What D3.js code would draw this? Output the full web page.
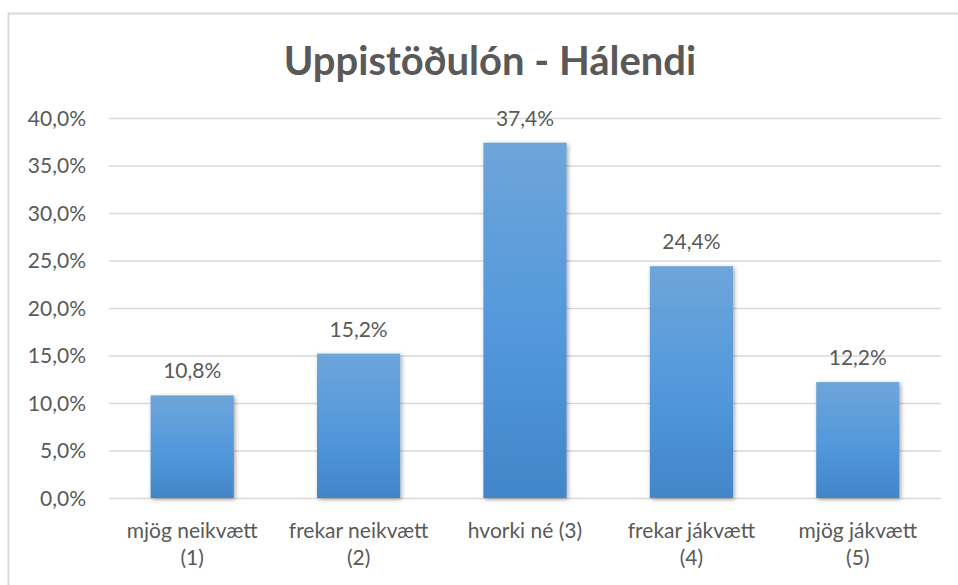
<!DOCTYPE html>
<html>
<head>
<meta charset="utf-8">
<script src="https://cdn.jsdelivr.net/npm/d3@7"></script>
<style>
  html, body { margin: 0; padding: 0; background: #fff; }
  svg { display: block; }
  text { font-family: Lato, "Open Sans", sans-serif; fill: #595959; }
</style>
</head>
<body>
<svg id="chart" width="958" height="585"></svg>
<script>
// Survey answers: share of respondents per attitude category (%)
const title = "Uppistöðulón - Hálendi";
const categories = ["mjög neikvætt (1)", "frekar neikvætt (2)", "hvorki né (3)", "frekar jákvætt (4)", "mjög jákvætt (5)"];
const values = [10.8, 15.2, 37.4, 24.4, 12.2];
const yTicks = [0, 5, 10, 15, 20, 25, 30, 35, 40];

const svg = d3.select("#chart");
const W = 958, H = 585;
const margin = { top: 118, right: 17, bottom: 87, left: 109 };
const plotW = W - margin.left - margin.right;
const plotH = H - margin.top - margin.bottom;
const fontSize = 21;

const pct = v => d3.format(".1f")(v).replace(".", ",") + "%";

// chart frame
svg.append("rect")
  .attr("x", 8.5).attr("y", 13.5)
  .attr("width", W + 20).attr("height", H + 20)
  .attr("fill", "#fff").attr("stroke", "#d9d9d9").attr("stroke-width", 2);

// bar fill and shadow
const defs = svg.append("defs");
const grad = defs.append("linearGradient").attr("id", "barFill")
  .attr("x1", 0).attr("y1", 0).attr("x2", 0).attr("y2", 1);
grad.append("stop").attr("offset", "0%").attr("stop-color", "#6ea5d9");
grad.append("stop").attr("offset", "50%").attr("stop-color", "#5499dc");
grad.append("stop").attr("offset", "100%").attr("stop-color", "#4186c8");
const shadow = defs.append("filter").attr("id", "barShadow")
  .attr("x", "-20%").attr("y", "-20%").attr("width", "140%").attr("height", "140%");
shadow.append("feDropShadow").attr("dx", 1.5).attr("dy", 1.5)
  .attr("stdDeviation", 2).attr("flood-color", "#000").attr("flood-opacity", 0.35);

const x = d3.scaleBand().domain(categories).range([0, plotW]).paddingInner(0.5).paddingOuter(0.25);
const y = d3.scaleLinear().domain([0, 40]).range([plotH, 0]);

const g = svg.append("g").attr("transform", `translate(${margin.left},${margin.top})`);

// horizontal gridlines with value labels on the left
const yAxis = d3.axisLeft(y).tickValues(yTicks).tickFormat(pct).tickSize(-plotW).tickPadding(23);
const ya = g.append("g").call(yAxis);
ya.select(".domain").remove();
ya.selectAll(".tick line").attr("stroke", "#d9d9d9").attr("stroke-width", 1.5);
ya.selectAll(".tick text")
  .style("font-family", "Lato, 'Open Sans', sans-serif")
  .attr("font-size", fontSize).attr("fill", "#595959").attr("dy", "0.35em");

// bars
g.selectAll("rect.bar").data(values).join("rect")
  .attr("class", "bar")
  .attr("x", (d, i) => x(categories[i]))
  .attr("y", d => y(d))
  .attr("width", x.bandwidth())
  .attr("height", d => y(0) - y(d))
  .attr("fill", "url(#barFill)")
  .attr("filter", "url(#barShadow)");

// value labels above bars
g.selectAll("text.val").data(values).join("text")
  .attr("class", "val")
  .attr("x", (d, i) => x(categories[i]) + x.bandwidth() / 2)
  .attr("y", d => y(d) - 17)
  .attr("text-anchor", "middle")
  .attr("font-size", fontSize)
  .text(d => pct(d));

// category labels: long ones put their "(n)" code on a second line
const wrapWidth = x.step() * 0.8;
const cat = g.selectAll("text.cat").data(categories).join("text")
  .attr("class", "cat")
  .attr("x", d => x(d) + x.bandwidth() / 2)
  .attr("y", plotH + 40)
  .attr("text-anchor", "middle")
  .attr("font-size", fontSize);
cat.each(function (d) {
  const t = d3.select(this);
  const probe = t.append("tspan").text(d);
  const tooWide = probe.node().getComputedTextLength() > wrapWidth;
  probe.remove();
  const cut = d.lastIndexOf(" ");
  const lines = tooWide ? [d.slice(0, cut), d.slice(cut + 1)] : [d];
  lines.forEach((l, i) => {
    t.append("tspan").attr("x", t.attr("x")).attr("dy", i === 0 ? 0 : 27).text(l);
  });
});

// title
svg.append("text")
  .attr("x", 490).attr("y", 75)
  .attr("text-anchor", "middle")
  .attr("font-size", 40).attr("font-weight", 700)
  .text(title);
</script>
</body>
</html>
